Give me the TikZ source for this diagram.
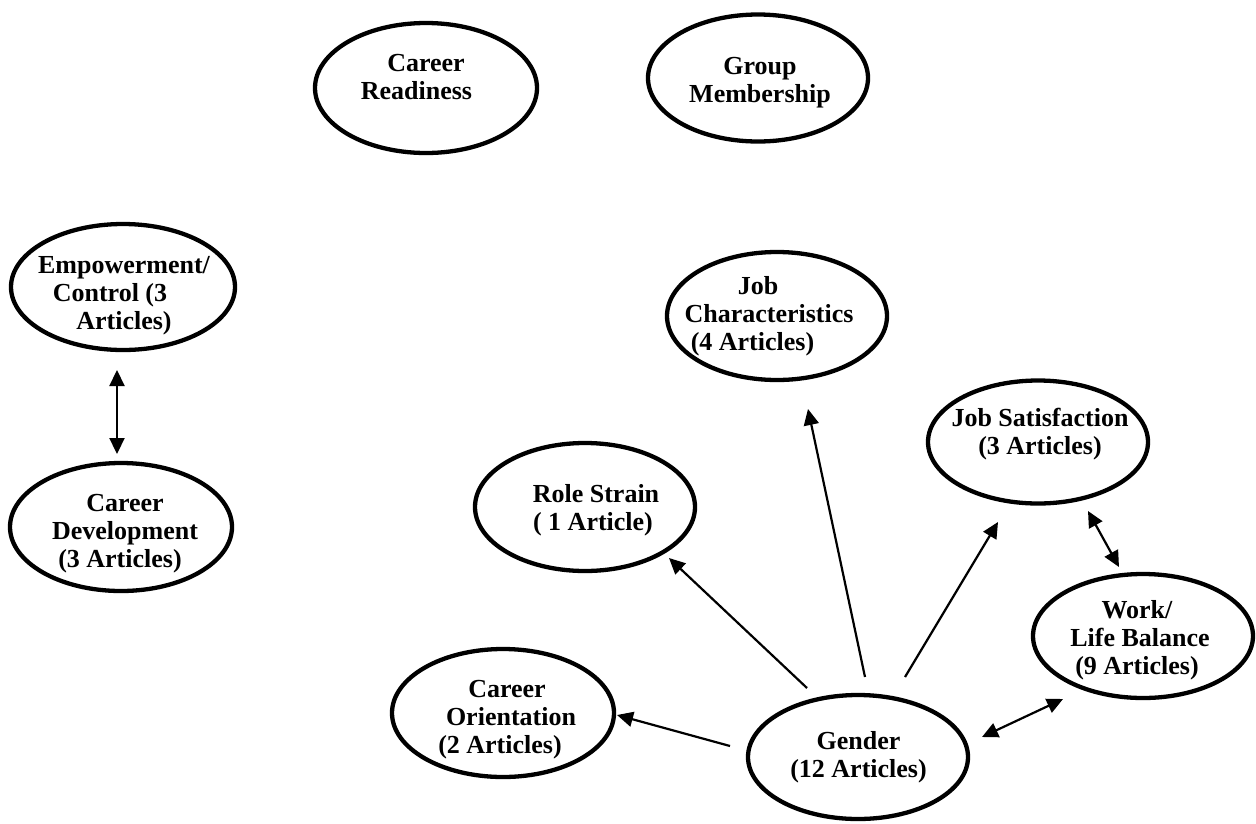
\documentclass[tikz,border=0pt]{standalone}
\usepackage{fontspec}
\setmainfont{Liberation Serif}
\usetikzlibrary{shapes.geometric,arrows.meta}
\newcommand{\padr}[1]{\rule{#1}{0pt}}
\tikzset{
  oval/.style={ellipse, draw, line width=4.3pt, inner sep=0pt},
  lbl/.style={align=center, inner sep=0pt, font=\bfseries\fontsize{26}{28}\selectfont},
  tip/.tip={Triangle[length=16pt,width=15pt]},
  conn/.style={line width=2.2pt, -tip},
  dconn/.style={line width=2.2pt, tip-tip}
}
\begin{document}
\begin{tikzpicture}[x=1pt,y=-1pt]
\useasboundingbox (0,0) rectangle (1256,823);
% ellipses
\node[oval, minimum width=222pt, minimum height=130pt] (cr) at (426,88) {};
\node[oval, minimum width=220pt, minimum height=127pt] (gm) at (758,78) {};
\node[oval, minimum width=224pt, minimum height=126pt] (em) at (123,287) {};
\node[oval, minimum width=222pt, minimum height=128pt] (cd) at (121,527) {};
\node[oval, minimum width=220pt, minimum height=128pt] (jc) at (777,316) {};
\node[oval, minimum width=220pt, minimum height=123pt] (js) at (1038,442) {};
\node[oval, minimum width=220pt, minimum height=128pt] (rs) at (585,507) {};
\node[oval, minimum width=220pt, minimum height=124pt] (wl) at (1143,636) {};
\node[oval, minimum width=222pt, minimum height=128pt] (co) at (503,713) {};
\node[oval, minimum width=220pt, minimum height=124pt] (ge) at (858,757) {};
% labels
\node[lbl] (cr-t) at (416.5,77) {\padr{19pt}Career\\Readiness};
\node[lbl] (gm-t) at (760,83) {Group\\Membership};
\node[lbl] (em-t) at (124,296) {Empowerment/\\Control (3\padr{28pt}\\Articles)};
\node[lbl] (cd-t) at (125,534) {Career\\Development\\(3 Articles)\padr{10pt}};
\node[lbl] (jc-t) at (769,316) {Job\padr{22pt}\\Characteristics\\(4 Articles)\padr{33pt}};
\node[lbl] (js-t) at (1040,434) {Job Satisfaction\\(3 Articles)};
\node[lbl] (rs-t) at (596,510) {Role Strain\\( 1 Article)\padr{6pt}};
\node[lbl] (wl-t) at (1140,640) {Work/\padr{6pt}\\Life Balance\\(9 Articles)\padr{6pt}};
\node[lbl] (co-t) at (511,720) {Career\padr{8pt}\\Orientation\\(2 Articles)\padr{22pt}};
\node[lbl] (ge-t) at (858.5,757) {Gender\\(12 Articles)};
% connector end points
\coordinate (g1) at (730,746);
\coordinate (co-e) at (617,715);
\coordinate (g2) at (807,688);
\coordinate (rs-e) at (669,558);
\coordinate (g3) at (865,677);
\coordinate (jc-e) at (808,409);
\coordinate (g4) at (905,677);
\coordinate (js-e) at (998,522);
\coordinate (g5) at (982,737);
\coordinate (wl-e) at (1063,699);
\coordinate (js-b) at (1088,511);
\coordinate (wl-a) at (1119,567);
\coordinate (em-b) at (117,370);
\coordinate (cd-a) at (117,454);
% connectors
\draw[conn] (g1) -- (co-e);
\draw[conn] (g2) -- (rs-e);
\draw[conn] (g3) -- (jc-e);
\draw[conn] (g4) -- (js-e);
\draw[dconn] (g5) -- (wl-e);
\draw[dconn] (js-b) -- (wl-a);
\draw[dconn] (em-b) -- (cd-a);
\end{tikzpicture}
\end{document}
